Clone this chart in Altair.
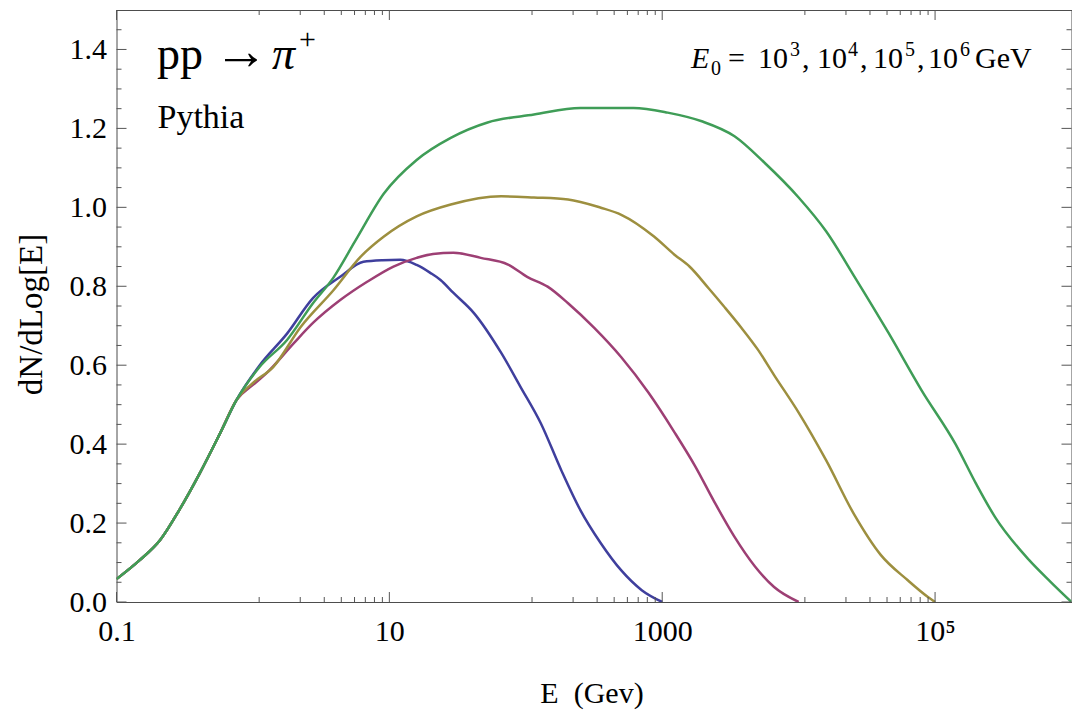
import altair as alt
import pandas as pd

# ---- data (log10 E in GeV, dN/dLog[E]) ----
common_logE = [-1.0, -0.83, -0.68, -0.54, -0.39, -0.24, -0.12]
common_y = [0.058, 0.106, 0.157, 0.233, 0.326, 0.428, 0.512]

e3_logE = [0.05, 0.25, 0.44, 0.64, 0.81, 0.95, 1.08, 1.2, 1.3, 1.375, 1.47, 1.62,
           1.82, 1.96, 2.11, 2.26, 2.40, 2.55, 2.70, 2.85, 3.0]
e3_y = [0.60, 0.68, 0.77, 0.824, 0.862, 0.866, 0.867, 0.854, 0.834, 0.816, 0.783, 0.732,
        0.631, 0.546, 0.453, 0.334, 0.233, 0.149, 0.08, 0.03, 0.0]

e4_logE = [0.0, 0.1, 0.3, 0.44, 0.64, 0.84, 1.03, 1.2, 1.32, 1.47, 1.67, 1.87, 2.01,
           2.16, 2.31, 2.5, 2.70, 2.90, 3.09, 3.24, 3.38, 3.53, 3.68, 3.82, 4.0]
e4_y = [0.55, 0.58, 0.656, 0.707, 0.765, 0.812, 0.85, 0.872, 0.882, 0.885, 0.872, 0.855, 0.824,
        0.799, 0.757, 0.695, 0.62, 0.53, 0.43, 0.345, 0.255, 0.165, 0.09, 0.038, 0.0]

e5_logE = [0.0, 0.15, 0.35, 0.59, 0.79, 0.96, 1.2, 1.45, 1.82, 2.06, 2.31, 2.55, 2.70, 2.94,
           3.09, 3.2, 3.34, 3.45, 3.58, 3.7, 3.82, 4.0, 4.2, 4.41, 4.6, 4.8, 4.95, 5.0]
e5_y = [0.555, 0.596, 0.697, 0.79, 0.875, 0.926, 0.977, 1.007, 1.028, 1.025, 1.02, 0.999, 0.981, 0.926,
        0.88, 0.85, 0.795, 0.75, 0.695, 0.64, 0.575, 0.48, 0.36, 0.22, 0.12, 0.055, 0.012, 0.0]

e6_logE = [0.05, 0.25, 0.44, 0.59, 0.75, 0.96, 1.2, 1.45, 1.72, 2.06, 2.4, 2.79, 3.04, 3.29,
           3.53, 3.75, 4.0, 4.2, 4.41, 4.66, 4.90, 5.15, 5.3, 5.44, 5.69, 5.85, 6.0]
e6_y = [0.596, 0.664, 0.757, 0.822, 0.915, 1.035, 1.12, 1.176, 1.215, 1.235, 1.252, 1.252, 1.24, 1.218,
        1.18, 1.113, 1.025, 0.94, 0.824, 0.681, 0.537, 0.40, 0.30, 0.215, 0.106, 0.05, 0.0]

series_names = ["E0=1e3", "E0=1e4", "E0=1e5", "E0=1e6"]
series_colors = ["#3f3f9d", "#9d3f74", "#9d8f3f", "#3f9d57"]

x_major = [0.1, 10, 1000, 100000]
y_major = [0.0, 0.2, 0.4, 0.6, 0.8, 1.0, 1.2, 1.4]
y_minor = [0.05, 0.1, 0.15, 0.25, 0.3, 0.35, 0.45, 0.5, 0.55, 0.65, 0.7, 0.75,
           0.85, 0.9, 0.95, 1.05, 1.1, 1.15, 1.25, 1.3, 1.35, 1.45]
x_minor = [m * j / 9 for m in [10, 1000, 100000] for j in range(1, 9)]

# ---- build table ----
rows = []
for name, lx, ly in zip(series_names,
                        [e3_logE, e4_logE, e5_logE, e6_logE],
                        [e3_y, e4_y, e5_y, e6_y]):
    for a, b in zip(common_logE + lx, common_y + ly):
        rows.append({"series": name, "E": 10 ** a, "y": b})
df = pd.DataFrame(rows)

W, H = 955, 592
L, T = 116.5, 10
FONT = "Liberation Serif"
TICK = "#555555"

xs = alt.Scale(type="log", domain=[0.1, 1e6], nice=False)
ys = alt.Scale(domain=[0, 1.5], nice=False, zero=False)

xaxis = alt.Axis(
    values=x_major, ticks=False, domain=False, grid=False,
    labelExpr="datum.value >= 100000 ? '10⁵' : format(datum.value, '~g')",
    labelFont=FONT, labelFontSize=30, labelColor="black",
    labelBaseline="alphabetic", labelPadding=38, labelFlush=False,
    title="E\u00a0\u00a0(Gev)", titleFont=FONT, titleFontSize=30, titleFontWeight="normal",
    titleColor="black", titleBaseline="alphabetic", titleX=475, titleY=100,
    titleAlign="center")
yaxis = alt.Axis(
    values=y_major, format=".1f", ticks=False, domain=False, grid=False,
    labelFont=FONT, labelFontSize=30, labelColor="black", labelPadding=10,
    labelBaseline="middle",
    title="dN/dLog[E]", titleFont=FONT, titleFontSize=33, titleFontWeight="normal",
    titleColor="black", titleBaseline="alphabetic", titleAngle=270,
    titleX=-75, titleY=304, titleAlign="center")

lines = alt.Chart(df).mark_line(strokeWidth=2.5, clip=True, interpolate="monotone").encode(
    x=alt.X("E:Q", scale=xs, axis=xaxis),
    y=alt.Y("y:Q", scale=ys, axis=yaxis),
    color=alt.Color("series:N", scale=alt.Scale(domain=series_names, range=series_colors),
                    legend=None),
    detail="series:N",
)

def xticks(vals, length):
    d = pd.DataFrame({"v": vals})
    base = alt.Chart(d).mark_rule(color=TICK, strokeWidth=1)
    bot = base.encode(x=alt.X("v:Q", scale=xs, axis=xaxis),
                      y=alt.value(H), y2=alt.value(H - length))
    top = base.encode(x=alt.X("v:Q", scale=xs, axis=xaxis),
                      y=alt.value(0), y2=alt.value(length))
    return [bot, top]

def yticks(vals, length):
    d = pd.DataFrame({"v": vals})
    base = alt.Chart(d).mark_rule(color=TICK, strokeWidth=1)
    left = base.encode(y=alt.Y("v:Q", scale=ys, axis=yaxis),
                       x=alt.value(0), x2=alt.value(length))
    right = base.encode(y=alt.Y("v:Q", scale=ys, axis=yaxis),
                        x=alt.value(W), x2=alt.value(W - length))
    return [left, right]

def label(text, x, y, size, style="normal", align="left"):
    # x, y given in page pixels; converted to plot-area coordinates
    return alt.Chart(pd.DataFrame({"t": [text]})).mark_text(
        font=FONT, fontSize=size, fontStyle=style, align=align,
        baseline="alphabetic", color="black").encode(
        text="t:N", x=alt.value(x - L), y=alt.value(y - T))

annotations = [
    label("pp", 157, 69, 46),
    label("→", 214, 69, 54),
    label("π", 272, 69, 46, style="italic"),
    label("+", 299, 49, 30),
    label("Pythia", 157.5, 128, 34),
    label("E", 691, 68, 30, style="italic"),
    label("0", 711, 75, 20),
    label("=", 728, 68, 30),
    label("10", 758, 68, 30),
    label("3", 790, 56, 20),
    label(",", 802, 68, 30),
    label("10", 817, 68, 30),
    label("4", 848, 56, 20),
    label(",", 860, 68, 30),
    label("10", 873, 68, 30),
    label("5", 905, 56, 20),
    label(",", 917, 68, 30),
    label("10", 928, 68, 30),
    label("6", 960, 56, 20),
    label("GeV", 975, 68, 30),
]

layers = ([lines] + xticks(x_major, 10) + xticks(x_minor, 5) + yticks(y_major, 10)
          + yticks(y_minor, 5) + annotations)

chart = alt.layer(*layers).properties(
    width=W, height=H,
    autosize=alt.AutoSizeParams(type="none"),
    padding={"left": L, "top": T, "right": 0, "bottom": 110},
    background="white",
).configure_view(stroke="#4d4d4d", strokeWidth=1)

chart.save("out.html", embed_options={"renderer": "svg", "actions": False})
